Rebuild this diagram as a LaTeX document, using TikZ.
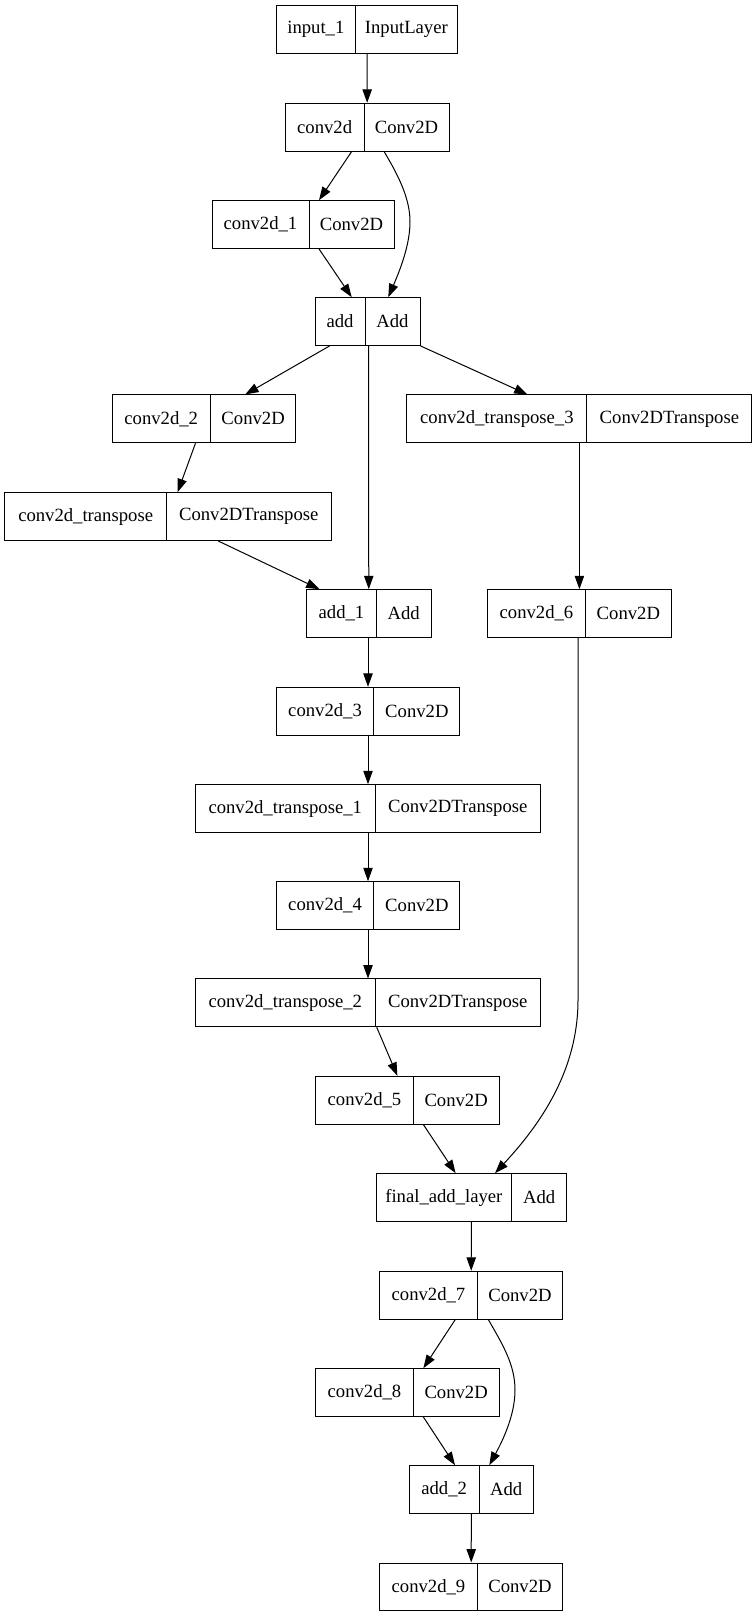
\documentclass[tikz,border=0pt]{standalone}
\usepackage{fontspec}
\setmainfont{Liberation Serif}
\usetikzlibrary{arrows.meta,calc}
\tikzset{
  recbox/.style={draw=black, line width=0.75pt, inner sep=0pt, minimum height=35.8pt},
  rectext/.style={inner sep=0pt, font=\fontsize{14pt}{16pt}\selectfont},
  edge/.style={draw=black, line width=0.75pt, -{Triangle[length=10pt,width=7pt]}}
}
\newcommand{\recnode}[7]{%
  \node[recbox, minimum width={(#4-#2)*0.75pt}] (#1) at ({(#2+#4)/2},{#5+23.85}) {};
  \draw[line width=0.75pt] ({#3},{#5}) -- ({#3},{#5+47.7});
  \node[rectext] (#1L) at ({(#2+#3)/2},{#5+23.85}) {#6};
  \node[rectext] (#1R) at ({(#3+#4)/2},{#5+23.85}) {#7};
}
\begin{document}
\begin{tikzpicture}[x=0.75pt,y=-0.75pt]
\useasboundingbox[fill=white] (0,0) rectangle (753,1617);
\recnode{in1}{276.7}{355}{457.7}{5.7}{input\_1}{InputLayer}
\recnode{cA}{285.3}{364}{449}{103.3}{conv2d}{Conv2D}
\recnode{cB}{212}{309}{394}{200.7}{conv2d\_1}{Conv2D}
\recnode{addA}{315}{365}{420}{297.7}{add}{Add}
\recnode{cC}{112}{210.4}{295.8}{395}{conv2d\_2}{Conv2D}
\recnode{tD}{406.9}{586.9}{751.9}{395}{conv2d\_transpose\_3}{Conv2DTranspose}
\recnode{tA}{4.8}{166.5}{331}{492.7}{conv2d\_transpose}{Conv2DTranspose}
\recnode{addB}{306.5}{376.4}{431}{589.7}{add\_1}{Add}
\recnode{cG}{487.5}{585.4}{671.3}{589.7}{conv2d\_6}{Conv2D}
\recnode{cD}{276.2}{373.9}{459.8}{687.3}{conv2d\_3}{Conv2D}
\recnode{tB}{195.5}{375}{540.5}{784.7}{conv2d\_transpose\_1}{Conv2DTranspose}
\recnode{cE}{276.2}{373.9}{459.8}{881.7}{conv2d\_4}{Conv2D}
\recnode{tC}{195.5}{375}{540.5}{979}{conv2d\_transpose\_2}{Conv2DTranspose}
\recnode{cF}{315.7}{413.3}{499}{1076.3}{conv2d\_5}{Conv2D}
\recnode{fin}{376}{511.7}{566.7}{1173.7}{final\_add\_layer}{Add}
\recnode{cH}{379.7}{477.3}{562.7}{1271.3}{conv2d\_7}{Conv2D}
\recnode{cI}{315.7}{413.3}{499}{1368.7}{conv2d\_8}{Conv2D}
\recnode{addC}{409.3}{479}{533.3}{1465.7}{add\_2}{Add}
\recnode{cJ}{379.7}{477.3}{562.7}{1563}{conv2d\_9}{Conv2D}
% edges
\draw[edge] (in1.south) -- (cA.north);
\draw[edge] ($(cA.south)+(-15.5,0)$) -- ($(cB.north)+(16,0)$);
\draw[edge] ($(cA.south)+(16.9,0)$) .. controls (400,178) and (410,200) .. (410,221.7)
  .. controls (410,245) and (400,270) .. ($(addA.north)+(20.8,0)$);
\draw[edge] ($(cB.south)+(16,0)$) -- ($(addA.north)+(-15.8,0)$);
\draw[edge] ($(addA.south)+(-37.9,0)$) -- ($(cC.north)+(41.3,0)$);
\draw[edge] ($(addA.south)+(1.2,0)$) -- (addB.north);
\draw[edge] ($(addA.south)+(53,0)$) -- ($(tD.north)+(-51.9,0)$);
\draw[edge] ($(cC.south)+(-8.4,0)$) -- ($(tA.north)+(9.7,0)$);
\draw[edge] ($(tA.south)+(50.2,0)$) -- ($(addB.north)+(-49.3,0)$);
\draw[edge] (tD.south) -- (cG.north);
\draw[edge] ($(addB.south)+(-0.75,0)$) -- (cD.north);
\draw[edge] (cD.south) -- (tB.north);
\draw[edge] (tB.south) -- (cE.north);
\draw[edge] (cE.south) -- (tC.north);
\draw[edge] ($(tC.south)+(8.7,0)$) -- ($(cF.north)+(-10,0)$);
\draw[edge] ($(cF.south)+(16,0)$) -- ($(fin.north)+(-15.7,0)$);
\draw[edge] ($(cG.south)+(-1.4,0)$) -- (578,1000) .. controls (578,1075) and (535,1130) .. ($(fin.north)+(23.7,0)$);
\draw[edge] (fin.south) -- (cH.north);
\draw[edge] ($(cH.south)+(-15.9,0)$) -- ($(cI.north)+(16,0)$);
\draw[edge] ($(cH.south)+(17.1,0)$) .. controls (503,1345) and (515,1365) .. (515,1390)
  .. controls (515,1415) and (503,1440) .. ($(addC.north)+(18,0)$);
\draw[edge] ($(cI.south)+(16,0)$) -- ($(addC.north)+(-16.3,0)$);
\draw[edge] (addC.south) -- (cJ.north);
\end{tikzpicture}
\end{document}
